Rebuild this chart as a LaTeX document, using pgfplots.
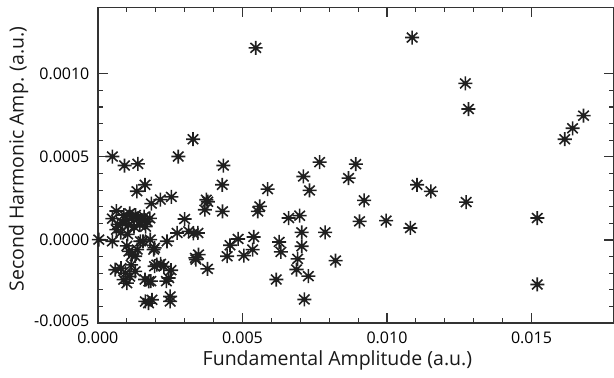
\documentclass[border=0pt]{standalone}
\usepackage{fontspec}
\setmainfont{Open Sans}
\usepackage{pgfplots}
\pgfplotsset{compat=1.18}
\pgfdeclareplotmark{ast8}{%
  \pgfpathmoveto{\pgfqpoint{-\pgfplotmarksize}{0pt}}\pgfpathlineto{\pgfqpoint{\pgfplotmarksize}{0pt}}%
  \pgfpathmoveto{\pgfqpoint{0pt}{-\pgfplotmarksize}}\pgfpathlineto{\pgfqpoint{0pt}{\pgfplotmarksize}}%
  \pgfpathmoveto{\pgfqpoint{-.75\pgfplotmarksize}{-.7\pgfplotmarksize}}\pgfpathlineto{\pgfqpoint{.75\pgfplotmarksize}{.7\pgfplotmarksize}}%
  \pgfpathmoveto{\pgfqpoint{-.75\pgfplotmarksize}{.7\pgfplotmarksize}}\pgfpathlineto{\pgfqpoint{.75\pgfplotmarksize}{-.7\pgfplotmarksize}}%
  \pgfusepathqstroke}
\begin{document}
\begin{tikzpicture}
\begin{axis}[
  name=ax,
  scale only axis, width=515.6pt, height=315.7pt,
  xmin=0, xmax=0.01784, ymin=-0.0005, ymax=0.0014,
  xtick={0,0.005,0.010,0.015}, xticklabels={0.000,0.005,0.010,0.015},
  ytick={-0.0005,0,0.0005,0.0010}, yticklabels={\raisebox{5pt}{-0.0005},0.0000,0.0005,0.0010},
  minor x tick num=4, minor y tick num=4,
  scaled x ticks=false, scaled y ticks=false,
  tick align=inside, tick pos=both,
  major tick length=10pt, minor tick length=5pt,
  every tick/.style={line width=1.1pt, black!80},
  axis line style={line width=1.2pt, black!80},
  tick label style={font=\fontsize{16}{18}\selectfont, black},
  yticklabel style={xshift=-5pt},
  xticklabel style={yshift=-5pt},
  xlabel={Fundamental Amplitude (a.u.)},
  ylabel={Second Harmonic Amp. (a.u.)},
  xlabel style={at={(axis description cs:0.4645,-0.117)}, anchor=center, font=\fontsize{19.5}{22}\selectfont, black!90},
  ylabel style={at={(axis description cs:-0.154,0.52)}, anchor=center, font=\fontsize{19.5}{22}\selectfont, black!90},
]
\addplot[only marks, mark=ast8, mark size=7pt, line width=1.6pt, color=black!88] table[row sep=\\] {
x y\\
0.00546 0.001156\\
0.01087 0.001218\\
0.01271 0.000942\\
0.01282 0.000788\\
0.01680 0.000748\\
0.01642 0.000672\\
0.01615 0.000606\\
0.01520 0.000132\\
0.01520 -0.000268\\
0.01274 0.000228\\
0.01152 0.000292\\
0.01104 0.000332\\
0.01081 0.000072\\
0.00997 0.000116\\
0.00905 0.000112\\
0.00921 0.000238\\
0.00892 0.000456\\
0.00867 0.000372\\
0.00767 0.000468\\
0.00711 0.000382\\
0.00732 0.000298\\
0.00786 0.000046\\
0.00822 -0.000124\\
0.00698 0.000146\\
0.00660 0.000132\\
0.00705 0.000046\\
0.00705 -0.000038\\
0.00691 -0.000114\\
0.00687 -0.000178\\
0.00728 -0.000218\\
0.00714 -0.000358\\
0.00617 -0.000238\\
0.00627 -0.000012\\
0.00633 -0.000072\\
0.00587 0.000306\\
0.00560 0.000202\\
0.00553 0.000172\\
0.00539 0.000018\\
0.00535 -0.000058\\
0.00505 -0.000094\\
0.00485 0.000006\\
0.00457 -0.000032\\
0.00447 -0.000098\\
0.00434 0.000448\\
0.00430 0.000332\\
0.00431 0.000172\\
0.00003 0.000002\\
0.00050 -0.000008\\
0.00050 0.000502\\
0.00092 0.000448\\
0.00138 0.000458\\
0.00064 0.000174\\
0.00050 0.000128\\
0.00068 0.000094\\
0.00079 0.000044\\
0.00064 0.000062\\
0.00090 0.000150\\
0.00100 0.000120\\
0.00110 0.000160\\
0.00120 0.000140\\
0.00130 0.000150\\
0.00140 0.000130\\
0.00150 0.000120\\
0.00160 0.000140\\
0.00170 0.000110\\
0.00180 0.000130\\
0.00085 0.000100\\
0.00105 0.000090\\
0.00125 0.000080\\
0.00145 0.000090\\
0.00165 0.000080\\
0.00103 0.000034\\
0.00147 -0.000008\\
0.00181 0.000002\\
0.00156 -0.000008\\
0.00136 -0.000058\\
0.00129 -0.000098\\
0.00107 -0.000069\\
0.00100 -0.000036\\
0.00196 -0.000048\\
0.00193 -0.000058\\
0.00118 -0.000089\\
0.00060 -0.000179\\
0.00080 -0.000170\\
0.00095 -0.000200\\
0.00089 -0.000239\\
0.00100 -0.000260\\
0.00110 -0.000220\\
0.00129 -0.000189\\
0.00115 -0.000150\\
0.00176 -0.000249\\
0.00163 -0.000238\\
0.00183 -0.000248\\
0.00204 -0.000149\\
0.00196 -0.000158\\
0.00217 -0.000144\\
0.00228 -0.000159\\
0.00245 -0.000229\\
0.00237 -0.000248\\
0.00253 -0.000182\\
0.00164 -0.000370\\
0.00187 -0.000360\\
0.00175 -0.000380\\
0.00250 -0.000340\\
0.00250 -0.000370\\
0.00163 0.000332\\
0.00135 0.000293\\
0.00216 0.000243\\
0.00254 0.000259\\
0.00185 0.000219\\
0.00300 0.000126\\
0.00239 -0.000008\\
0.00274 0.000042\\
0.00314 0.000052\\
0.00330 0.000040\\
0.00346 0.000042\\
0.00337 -0.000108\\
0.00339 -0.000118\\
0.00348 -0.000088\\
0.00379 -0.000174\\
0.00375 0.000242\\
0.00370 0.000182\\
0.00380 0.000230\\
0.00329 0.000606\\
0.00278 0.000502\\
};
\end{axis}
\pgfresetboundingbox
\path[use as bounding box] ([xshift=-97.9pt,yshift=-54pt]ax.south west) rectangle ([xshift=0.4pt,yshift=7.3pt]ax.north east);
\end{tikzpicture}
\end{document}
